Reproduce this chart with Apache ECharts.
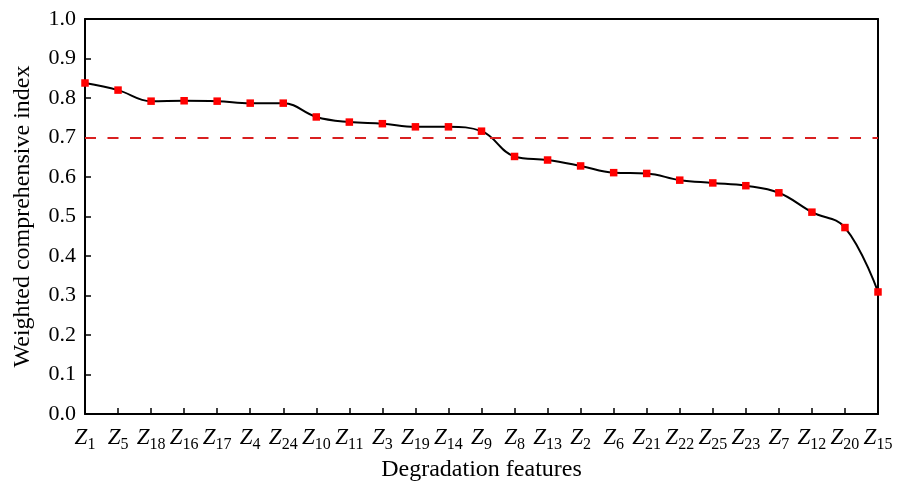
<!DOCTYPE html>
<html>
<head>
<meta charset="utf-8">
<script src="https://cdn.jsdelivr.net/npm/echarts@6/dist/echarts.min.js"></script>
<style>html,body{margin:0;padding:0;background:#fff}#chart{width:898px;height:491px}</style>
</head>
<body>
<div id="chart"></div>
<script>
const categories = ['Z1','Z5','Z18','Z16','Z17','Z4','Z24','Z10','Z11','Z3','Z19','Z14','Z9','Z8','Z13','Z2','Z6','Z21','Z22','Z25','Z23','Z7','Z12','Z20','Z15'];
const values = [0.838,0.820,0.792,0.793,0.792,0.787,0.787,0.752,0.739,0.735,0.727,0.727,0.716,0.652,0.643,0.628,0.611,0.609,0.592,0.585,0.578,0.560,0.511,0.472,0.309];
const threshold = 0.7;
const yTicks = ['0.0','0.1','0.2','0.3','0.4','0.5','0.6','0.7','0.8','0.9','1.0'];

const FONT = 'Liberation Serif';
const chart = echarts.init(document.getElementById('chart'), null, {renderer:'canvas'});
const axisLine = {show:true, onZero:false, lineStyle:{color:'#000', width:2}};
chart.setOption({
  animation:false,
  backgroundColor:'#fff',
  grid:{left:85, right:20, top:19, bottom:77, containLabel:false},
  xAxis:[{
    type:'category', data:categories, boundaryGap:false,
    axisLine:axisLine,
    axisTick:{show:true, inside:true, length:6, alignWithLabel:true, lineStyle:{color:'#000', width:1.5}},
    axisLabel:{
      interval:0, margin:9,
      formatter:function(v){ return '{z|Z}{s|' + v.slice(1) + '}'; },
      rich:{
        z:{fontFamily:FONT, fontStyle:'italic', fontSize:23, color:'#000', lineHeight:24},
        s:{fontFamily:FONT, fontSize:16, color:'#000', padding:[14,0,0,0]}
      }
    },
    name:'Degradation features', nameLocation:'middle', nameGap:35,
    nameTextStyle:{fontFamily:FONT, fontSize:24, color:'#000'},
    splitLine:{show:false}
  },{
    type:'category', data:categories, boundaryGap:false, position:'top',
    axisLine:axisLine, axisTick:{show:false}, axisLabel:{show:false}, splitLine:{show:false}
  }],
  yAxis:[{
    type:'value', min:0, max:1, interval:0.1,
    axisLine:axisLine,
    axisTick:{show:true, inside:true, length:6, lineStyle:{color:'#000', width:1.5}},
    axisLabel:{margin:9, fontFamily:FONT, fontSize:22, color:'#000',
      formatter:function(v){ return yTicks[Math.round(v*10)]; }},
    splitLine:{show:false},
    name:'Weighted comprehensive index', nameLocation:'middle', nameGap:50,
    nameTextStyle:{fontFamily:FONT, fontSize:24, color:'#000'}
  },{
    type:'value', min:0, max:1, interval:0.1, position:'right',
    axisLine:axisLine, axisTick:{show:false}, axisLabel:{show:false}, splitLine:{show:false}
  }],
  series:[{
    type:'line', data:values, smooth:0.4,
    symbol:'rect', symbolSize:7.5,
    itemStyle:{color:'#ff0000'},
    lineStyle:{color:'#000', width:2},
    z:3,
    markLine:{
      silent:true, symbol:'none', label:{show:false},
      lineStyle:{color:'#d92020', width:2.2, type:[11,11.5], dashOffset:0},
      data:[{yAxis:threshold}]
    }
  }]
});
</script>
</body>
</html>
